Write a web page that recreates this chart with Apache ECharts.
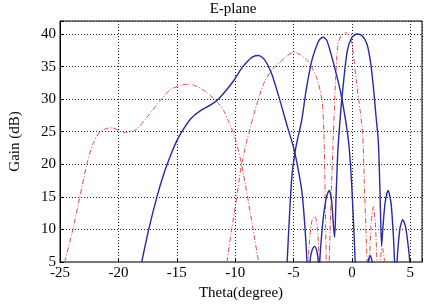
<!DOCTYPE html>
<html>
<head>
<meta charset="utf-8">
<script src="https://cdn.jsdelivr.net/npm/echarts@6/dist/echarts.min.js"></script>
<style>
  html, body { margin: 0; padding: 0; background: #fff; }
  #chart { width: 438px; height: 308px; }
</style>
</head>
<body>
<div id="chart"></div>
<script>
// [theta (deg), gain (dB)]; dips below 5 are nulls, clipped by the axis
var blueBeam1 = [
  [-18.0, 5], [-17.4, 10], [-16.7, 15], [-16.1, 18.6], [-15.5, 21.5], [-15.0, 23.6],
  [-14.5, 25.2], [-13.8, 27.0], [-13.0, 28.2], [-12.2, 29.0], [-11.5, 29.9], [-10.8, 31.3],
  [-10.1, 32.9], [-9.5, 34.6], [-9.0, 35.7], [-8.5, 36.5], [-8.0, 36.7], [-7.5, 36.1],
  [-6.9, 34.0], [-6.2, 30.0], [-5.5, 25.6], [-5.0, 22.6], [-4.6, 19.2], [-4.3, 16],
  [-4.05, 11], [-3.85, 5], [-3.75, 0]
];
var blueBeam2 = [
  [-5.55, 5], [-5.35, 12], [-5.15, 18], [-4.9, 21.6], [-4.7, 23.5], [-4.3, 26.8],
  [-3.9, 31.6], [-3.45, 35.8], [-3.0, 38.3], [-2.75, 39.2], [-2.45, 39.5], [-2.15, 39],
  [-1.8, 37], [-1.4, 34.3], [-1.0, 31.3], [-0.6, 27.4], [-0.25, 22.8], [0.02, 15.5],
  [0.28, 5], [0.4, 0], [1.3, 0], [1.38, 5], [1.56, 6], [1.74, 5], [1.82, 0]
];
var blueBeam3 = [
  [-3.68, 0], [-3.6, 5], [-3.4, 6.9], [-3.2, 7.4], [-3.0, 6.6], [-2.88, 5], [-2.82, 0],
  [-2.76, 5], [-2.5, 11], [-2.2, 14.8], [-1.95, 16], [-1.75, 14.6], [-1.58, 10.5],
  [-1.48, 8.8], [-1.36, 15], [-1.2, 22.2], [-1.0, 27.2], [-0.8, 31.2], [-0.4, 37.4],
  [0.0, 39.5], [0.45, 40], [0.9, 39.7], [1.3, 38.4], [1.6, 35.6], [1.84, 31.8],
  [2.05, 27.6], [2.26, 23.5], [2.4, 16], [2.54, 7.4], [2.66, 10.5], [2.85, 14.2],
  [3.1, 16], [3.35, 14], [3.55, 9], [3.65, 5], [3.75, 0], [3.86, 5], [4.1, 10],
  [4.35, 11.5], [4.6, 10.3], [4.85, 7], [4.95, 5], [5.05, 0]
];
var redBeam1 = [
  [-24.6, 5], [-23.9, 10], [-23.3, 15], [-22.7, 20], [-22.2, 23], [-21.6, 25],
  [-21.0, 25.5], [-20.5, 25.6], [-20.0, 25.2], [-19.5, 24.9], [-18.7, 25.1], [-18.2, 25.8],
  [-17.7, 26.9], [-16.4, 29.8], [-15.6, 31.4], [-14.7, 32.1], [-13.9, 32.3], [-12.8, 31.5],
  [-11.6, 29.7], [-11.0, 28.3], [-10.6, 26.7], [-10.1, 24.6], [-9.45, 20], [-8.5, 10.4],
  [-8.0, 5]
];
var redBeam2 = [
  [-10.7, 5], [-10.3, 10], [-9.9, 14.5], [-9.5, 19.5], [-9.05, 23.2], [-8.5, 27],
  [-8.05, 29.8], [-7.45, 32.8], [-6.8, 34.6], [-6.2, 35.6], [-5.6, 36.6], [-4.95, 37.2],
  [-4.4, 36.8], [-3.8, 35.9], [-3.45, 34.9], [-3.0, 33.2], [-2.56, 29.8], [-2.4, 24.7],
  [-2.3, 16], [-2.2, 5]
];
var redBeam3 = [
  [-3.85, 0], [-3.75, 5], [-3.6, 9], [-3.4, 11.5], [-3.15, 12], [-2.95, 10], [-2.8, 5],
  [-2.7, 0], [-2.05, 0], [-1.95, 5], [-1.8, 14], [-1.6, 24], [-1.4, 33], [-1.2, 38.3],
  [-0.9, 39.9], [-0.5, 40.2], [-0.2, 39.6], [0.0, 38.6], [0.4, 32.4], [0.7, 28.3],
  [0.92, 24.5], [1.1, 15], [1.3, 5], [1.4, 0], [1.5, 5], [1.65, 11], [1.84, 13.5],
  [2.0, 11], [2.15, 5], [2.3, 0], [2.4, 5], [2.6, 7.2], [2.8, 5], [2.9, 0]
];
var xTicks = [-25, -20, -15, -10, -5, 0, 5];
var yTicks = [5, 10, 15, 20, 25, 30, 35, 40];

var serif = '"Liberation Serif", "DejaVu Serif", serif';
var blue = '#2828a8';
var red = '#dd4a4a';

function redLine(data) {
  return {
    type: 'line', data: data, showSymbol: false, symbol: 'none',
    smooth: 0.25, clip: true, silent: true,
    lineStyle: { color: red, width: 1, type: [5, 2, 1, 2] },
    z: 2
  };
}
function blueLine(data) {
  return {
    type: 'line', data: data, showSymbol: false, symbol: 'none',
    smooth: 0.25, clip: true, silent: true,
    lineStyle: { color: blue, width: 1.4 },
    z: 3
  };
}

var chart = echarts.init(document.getElementById('chart'), null, { renderer: 'canvas' });
chart.setOption({
  animation: false,
  backgroundColor: '#fff',
  title: {
    text: 'E-plane', left: 228, top: -3, textAlign: 'center',
    textStyle: { fontFamily: serif, fontSize: 15, fontWeight: 'normal', color: '#000' }
  },
  grid: {
    left: 53, right: 16, top: 21, bottom: 46,
    show: true, borderColor: '#000', borderWidth: 1, backgroundColor: 'transparent'
  },
  xAxis: {
    type: 'value', min: -25, max: 6, interval: 5,
    name: 'Theta(degree)', nameLocation: 'middle', nameGap: 21,
    nameTextStyle: { fontFamily: serif, fontSize: 15, color: '#000' },
    axisLine: { show: true, onZero: false, lineStyle: { color: '#777', width: 2 } },
    axisTick: { show: true, inside: true, length: 4, lineStyle: { color: '#000' } },
    axisLabel: {
      fontFamily: serif, fontSize: 15, color: '#000', margin: 4,
      formatter: function (v) { return xTicks.indexOf(v) >= 0 ? String(v) : ''; }
    },
    splitLine: { show: true, lineStyle: { color: '#222', width: 1, type: [1, 2] } }
  },
  yAxis: {
    type: 'value', min: 5, max: 42, interval: 5,
    name: 'Gain (dB)', nameLocation: 'middle', nameGap: 37,
    nameTextStyle: { fontFamily: serif, fontSize: 15, color: '#000' },
    axisLine: { show: true, onZero: false, lineStyle: { color: '#000', width: 1 } },
    axisTick: { show: true, inside: true, length: 4, lineStyle: { color: '#000' } },
    axisLabel: {
      fontFamily: serif, fontSize: 15, color: '#000', margin: 4,
      formatter: function (v) { return yTicks.indexOf(v) >= 0 ? String(v) : ''; }
    },
    splitLine: { show: true, lineStyle: { color: '#222', width: 1, type: [1, 2] } }
  },
  series: [
    redLine(redBeam1), redLine(redBeam2), redLine(redBeam3),
    blueLine(blueBeam1), blueLine(blueBeam2), blueLine(blueBeam3)
  ]
});
</script>
</body>
</html>
